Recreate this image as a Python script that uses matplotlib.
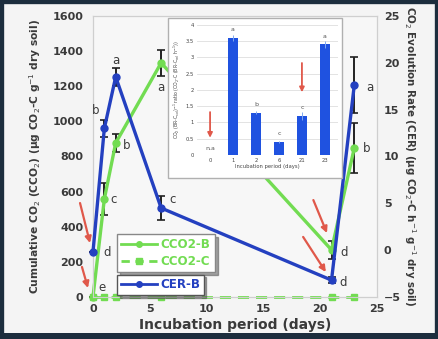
import numpy as np
import matplotlib.pyplot as plt
from matplotlib.patches import Rectangle
from matplotlib.lines import Line2D

# sampling days
days = [0, 1, 2, 6, 21, 23]

# cumulative CO2 (left axis)
cco2_b = [0, 558, 877, 1333, 268, 848]
cco2_b_err = [0, 90, 50, 75, 50, 142]
cco2_c = [0, 0, 0, 0, 0, 0]
cco2_b_letters = ['e', 'c', 'b', 'a', 'd', 'b']

# CO2 evolution rate (right axis)
cer_b = [-0.2, 13.0, 18.5, 4.5, -3.2, 17.6]
cer_b_err = [0, 0.9, 1.0, 1.3, 0.3, 3.0]
cer_b_letters = ['d', 'b', 'a', 'c', 'd', 'a']

# inset: ratio per sampling day
ratio_days = ['0', '1', '2', '6', '21', '23']
ratio = [np.nan, 3.6, 1.3, 0.4, 1.2, 3.4]
ratio_err = [0, 0.08, 0.05, 0.04, 0.12, 0.12]
ratio_letters = ['n.a', 'a', 'b', 'c', 'c', 'a']

GREEN = '#72dc52'
BLUE = '#2440c0'
BAR = '#1f52e0'
RED = '#e0584a'
TXT = '#3a3a3a'

plt.rcParams['font.family'] = ['DejaVu Sans']

fig = plt.figure(figsize=(4.39, 3.39), dpi=100)
fig.patch.set_facecolor('#f4f4f4')

ax = fig.add_axes([0.2118, 0.1239, 0.6469, 0.8289])
ax.set_facecolor('#f7f7f7')
ax2 = ax.twinx()

# cumulative CO2
ax.errorbar(days, cco2_b, yerr=cco2_b_err, color=GREEN, lw=2.4, marker='o', ms=5,
            ecolor='#222222', elinewidth=1.4, capsize=3, capthick=1.2, clip_on=False, zorder=3)
ax.plot(days, cco2_c, color=GREEN, lw=2.0, ls=(0, (4, 2.5)), marker='s', ms=5,
        clip_on=False, zorder=3)

# evolution rate
ax2.errorbar(days, cer_b, yerr=cer_b_err, color=BLUE, lw=2.4, marker='o', ms=5,
             ecolor='#222222', elinewidth=1.4, capsize=3, capthick=1.2, clip_on=False, zorder=4)

ax.set_xlim(0, 25)
ax.set_ylim(0, 1600)
ax2.set_ylim(-5, 25)
ax.set_xticks([0, 5, 10, 15, 20, 25])
ax.set_yticks(range(0, 1601, 200))
ax2.set_yticks([-5, 0, 5, 10, 15, 20, 25])

for a in (ax, ax2):
    for s in a.spines.values():
        s.set_color('#cfcfcf')
        s.set_linewidth(0.8)
    a.tick_params(length=0, labelsize=8, labelcolor=TXT)
ax.tick_params(axis='y', pad=7)
ax.tick_params(axis='x', pad=5)
ax2.tick_params(axis='y', pad=5)
for lab in ax.get_xticklabels() + ax.get_yticklabels() + ax2.get_yticklabels():
    lab.set_fontweight('bold')

ax.set_xlabel('Incubation period (days)', fontsize=10, fontweight='bold', color=TXT, labelpad=3)
ax.set_ylabel('Cumulative CO$_2$ (CCO$_2$) (µg CO$_2$-C g$^{-1}$ dry soil)',
              fontsize=7.7, fontweight='bold', color=TXT, labelpad=7)
ax2.set_ylabel('CO$_2$ Evolution Rate (CER) (µg CO$_2$-C h$^{-1}$ g$^{-1}$ dry soil)',
               fontsize=7.4, fontweight='bold', color=TXT, rotation=-90, labelpad=12)

# significance letters
g_off = [(6.5, 7), (6.5, 0), (8, -2), (0, -18), (9, -1.5), (9, 0)]
for x, y, t, o in zip(days, cco2_b, cco2_b_letters, g_off):
    ax.annotate(t, (x, y), xytext=o, textcoords='offset points', ha='center', va='center',
                fontsize=8.5, color=TXT, annotation_clip=False, zorder=6)
b_off = [(10, 0), (-6, 13), (0, 12), (8.5, 6), (8, -1.5), (11, -1.5)]
for x, y, t, o in zip(days, cer_b, cer_b_letters, b_off):
    ax2.annotate(t, (x, y), xytext=o, textcoords='offset points', ha='center', va='center',
                 fontsize=8.5, color=TXT, annotation_clip=False, zorder=6)

# red arrows
arrow = dict(arrowstyle='-|>', color=RED, lw=1.6, mutation_scale=9, shrinkA=0, shrinkB=0)
for start, end in [((-1.14, 535), (-0.26, 307)), ((-0.97, 171), (-0.44, 51)),
                   ((19.4, 552), (20.6, 364)), ((18.5, 342), (20.5, 142))]:
    ax.annotate('', xy=end, xytext=start, arrowprops=arrow, annotation_clip=False, zorder=5)

# legends
h_b = Line2D([], [], color=GREEN, lw=2.0, marker='o', ms=4)
h_c = Line2D([], [], color=GREEN, lw=2.0, ls=(0, (3, 2)), marker='s', ms=4)
h_cer = Line2D([], [], color=BLUE, lw=2.0, marker='o', ms=4)
leg1 = ax2.legend([h_b, h_c], ['CCO2-B', 'CCO2-C'], loc='lower left', bbox_to_anchor=(0.085, 0.088),
                  prop={'weight': 'bold', 'size': 8.6}, labelcolor=GREEN, fancybox=False,
                  shadow=True, edgecolor='#888888', framealpha=1, handlelength=3.0,
                  borderpad=0.35, labelspacing=0.35, handletextpad=0.3, borderaxespad=0)
ax2.add_artist(leg1)
ax2.legend([h_cer], ['CER-B'], loc='lower left', bbox_to_anchor=(0.085, 0.008),
           prop={'weight': 'bold', 'size': 8.6}, labelcolor=BLUE, fancybox=False,
           shadow=True, edgecolor='#555555', framealpha=1, handlelength=3.0,
           borderpad=0.3, handletextpad=0.3, borderaxespad=0)

# inset panel
fig.add_artist(Rectangle((168 / 439, 1 - 178 / 339), 174 / 439, 160 / 339, transform=fig.transFigure,
                         facecolor='white', edgecolor='#b0b0b0', lw=1.0, zorder=2))
ins = fig.add_axes([0.4487, 0.5428, 0.3212, 0.3835], zorder=3)
ins.set_facecolor('white')
pos = np.arange(len(ratio_days))
ins.bar(pos, ratio, width=0.43, color=BAR, zorder=2)
ins.errorbar(pos, ratio, yerr=ratio_err, fmt='none', ecolor='#7fa8f0', elinewidth=0.7, zorder=3)
ins.set_xlim(-0.57, 5.57)
ins.set_ylim(0, 4)
ins.set_yticks(np.arange(0, 4.01, 0.5))
ins.set_yticklabels(['0', '0.5', '1', '1.5', '2', '2.5', '3', '3.5', '4'])
ins.set_xticks(pos)
ins.set_xticklabels(ratio_days)
ins.grid(axis='y', color='#dedede', lw=0.6, zorder=0)
for s in ins.spines.values():
    s.set_visible(False)
ins.tick_params(length=0, labelsize=3.8, labelcolor='#444444', pad=2)
ins.set_xlabel('Incubation period (days)', fontsize=3.8, color='#444444', labelpad=1)
ins.set_ylabel('CO$_2$ (BR-C$_{sol}$)$^{-1}$ ratio (CO$_2$-C (BR-C$_{sol}$ h$^{-1}$))',
               fontsize=3.3, color='#444444', labelpad=3)
for p, v, t in zip(pos, ratio, ratio_letters):
    y = 0.12 if np.isnan(v) else v + 0.18
    ins.text(p, y, t, ha='center', va='bottom', fontsize=4.5, color='#555555')
small_arrow = dict(arrowstyle='-|>', color=RED, lw=1.3, mutation_scale=7, shrinkA=0, shrinkB=0)
ins.annotate('', xy=(0, 0.53), xytext=(0, 1.32), arrowprops=small_arrow)
ins.annotate('', xy=(4, 1.93), xytext=(4, 2.83), arrowprops=small_arrow)

# dark frame around the panel
fig.add_artist(Rectangle((0, 0), 1, 1, transform=fig.transFigure, fill=False,
                         edgecolor='#1c2d3d', lw=6, zorder=10))
fig.add_artist(Rectangle((0, 0), 1, 6 / 339, transform=fig.transFigure,
                         facecolor='#1c2d3d', edgecolor='none', zorder=10))

fig.savefig('out.png', dpi=100, facecolor=fig.get_facecolor())
